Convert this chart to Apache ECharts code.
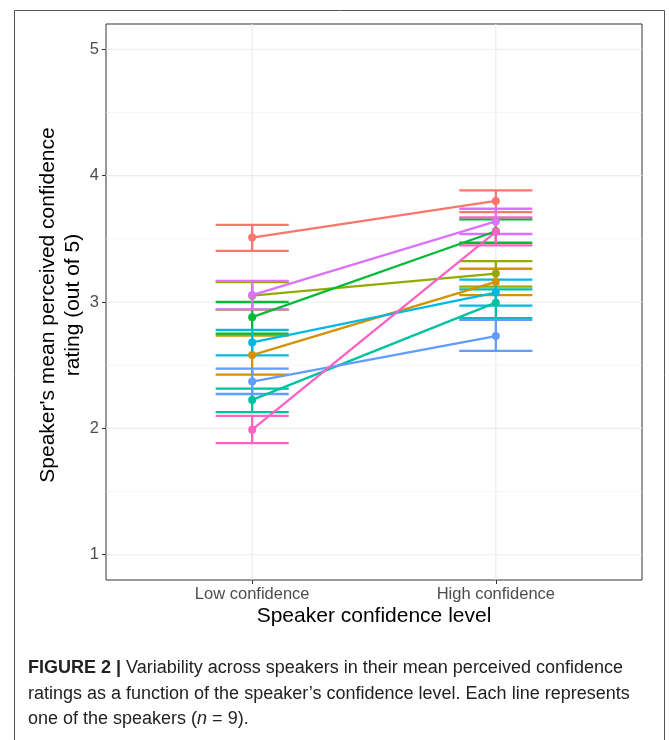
<!DOCTYPE html>
<html><head><meta charset="utf-8">
<script src="https://cdn.jsdelivr.net/npm/echarts@6/dist/echarts.min.js"></script>
<style>html,body{margin:0;padding:0;background:#fff}#c{width:669px;height:740px}</style>
</head><body><div id="c"></div>
<script>
const categories = ['Low confidence', 'High confidence'];
const speakerColors = ['#F8766D','#D39200','#93AA00','#00BA38','#00C19F','#00B9E3','#619CFF','#DB72FB','#FF61C3'];
const lowMean = [3.51, 2.58, 3.05, 2.88, 2.225, 2.68, 2.37, 3.055, 1.99];
const lowLo   = [3.405, 2.425, 2.94, 2.75, 2.128, 2.578, 2.272, 2.942, 1.883];
const lowHi   = [3.61, 2.735, 3.158, 3.00, 2.315, 2.78, 2.473, 3.167, 2.099];
const highMean = [3.80, 3.16, 3.225, 3.56, 2.995, 3.075, 2.73, 3.638, 3.555];
const highLo   = [3.711, 3.055, 3.121, 3.469, 2.872, 2.971, 2.613, 3.538, 3.448];
const highHi   = [3.883, 3.263, 3.324, 3.654, 3.10, 3.177, 2.858, 3.738, 3.67];
const yTicks = [1, 2, 3, 4, 5];
const yMinor = [1.5, 2.5, 3.5, 4.5];

const chart = echarts.init(document.getElementById('c'), null, {renderer: 'canvas'});
const ebHalf = 0.15;
const FF = 'Liberation Sans, Arial, sans-serif';

const gridLineData = [];
yMinor.forEach(v => gridLineData.push([1, v, 0.5]));
yTicks.forEach(v => gridLineData.push([1, v, 1]));
[1, 2].forEach(v => gridLineData.push([0, v, 1]));

const ebData = [];
for (let i = 0; i < speakerColors.length; i++) {
  ebData.push([1, lowLo[i], lowHi[i], i]);
  ebData.push([2, highLo[i], highHi[i], i]);
}

const series = [{
  type: 'custom', z: 0, silent: true,
  data: gridLineData,
  renderItem: function (params, api) {
    const cs = params.coordSys;
    const isX = api.value(0) === 0;
    const v = api.value(1);
    const w = api.value(2);
    let shape;
    if (isX) {
      const p = api.coord([v, 3]);
      shape = {x1: p[0], y1: cs.y, x2: p[0], y2: cs.y + cs.height};
    } else {
      const p = api.coord([1, v]);
      shape = {x1: cs.x, y1: p[1], x2: cs.x + cs.width, y2: p[1]};
    }
    return {type: 'line', shape: shape, style: {stroke: w < 1 ? '#F2F2F2' : '#EBEBEB', lineWidth: w < 1 ? 0.7 : 1.2}};
  },
  encode: {x: -1, y: -1}
}, {
  type: 'custom', z: 2, silent: true,
  data: ebData,
  renderItem: function (params, api) {
    const x = api.value(0), lo = api.value(1), hi = api.value(2);
    const col = speakerColors[api.value(3)];
    const a = api.coord([x - ebHalf, lo]);
    const b = api.coord([x + ebHalf, lo]);
    const c = api.coord([x - ebHalf, hi]);
    const d = api.coord([x + ebHalf, hi]);
    const m1 = api.coord([x, lo]), m2 = api.coord([x, hi]);
    const st = {stroke: col, lineWidth: 2.3};
    return {type: 'group', children: [
      {type: 'line', shape: {x1: m1[0], y1: m1[1], x2: m2[0], y2: m2[1]}, style: st},
      {type: 'line', shape: {x1: a[0], y1: a[1], x2: b[0], y2: b[1]}, style: st},
      {type: 'line', shape: {x1: c[0], y1: c[1], x2: d[0], y2: d[1]}, style: st}
    ]};
  },
  encode: {x: 0, y: [1, 2]}
}];

for (let i = 0; i < speakerColors.length; i++) {
  series.push({
    type: 'line', z: 3, silent: true,
    data: [[1, lowMean[i]], [2, highMean[i]]],
    symbol: 'circle', symbolSize: 8, showSymbol: true,
    lineStyle: {color: speakerColors[i], width: 2.3},
    itemStyle: {color: speakerColors[i]},
    animation: false
  });
}

const tickLabelStyle = {color: '#4D4D4D', fontSize: 16.5, fontFamily: FF};

chart.setOption({
  animation: false,
  grid: {left: 106, top: 24, width: 536, height: 556, show: true, borderColor: '#333333', borderWidth: 1, backgroundColor: 'transparent'},
  xAxis: {
    type: 'value', min: 0.4, max: 2.6,
    axisLine: {show: false},
    splitLine: {show: false},
    axisTick: {show: true, customValues: [1, 2], length: 4, lineStyle: {color: '#333333'}},
    axisLabel: Object.assign({customValues: [1, 2], margin: 6, formatter: v => categories[Math.round(v) - 1] || ''}, tickLabelStyle)
  },
  yAxis: {
    type: 'value', min: 0.8, max: 5.2,
    axisLine: {show: false},
    splitLine: {show: false},
    axisTick: {show: true, customValues: yTicks, length: 4, lineStyle: {color: '#333333'}},
    axisLabel: Object.assign({customValues: yTicks, margin: 7}, tickLabelStyle)
  },
  graphic: [
    {type: 'rect', shape: {x: 14.5, y: 10.5, width: 650, height: 740}, style: {fill: 'none', stroke: '#555555', lineWidth: 1}, z: -10},
    {type: 'text', x: 374, y: 616, style: {text: 'Speaker confidence level', fill: '#000', fontSize: 21, fontFamily: FF, align: 'center', verticalAlign: 'middle'}},
    {type: 'text', x: 60.5, y: 305, rotation: Math.PI / 2, style: {text: "Speaker's mean perceived confidence\nrating (out of 5)", fill: '#000', fontSize: 21, lineHeight: 25, fontFamily: FF, align: 'center', verticalAlign: 'middle'}},
    {type: 'text', x: 28, y: 668, style: {
      text: '{b|FIGURE 2 |} Variability across speakers in their mean perceived confidence',
      rich: {b: {fontWeight: 'bold', fontSize: 18, fill: '#222', fontFamily: FF}},
      fill: '#222', fontSize: 18, fontFamily: FF, verticalAlign: 'middle'}},
    {type: 'text', x: 28, y: 694, style: {text: 'ratings as a function of the speaker\u2019s confidence level. Each line represents', fill: '#222', fontSize: 18, fontFamily: FF, verticalAlign: 'middle'}},
    {type: 'text', x: 28, y: 719, style: {
      text: 'one of the speakers ({i|n} = 9).',
      rich: {i: {fontStyle: 'italic', fontSize: 18, fill: '#222', fontFamily: FF}},
      fill: '#222', fontSize: 18, fontFamily: FF, verticalAlign: 'middle'}}
  ],
  series: series
});
</script>
</body></html>
